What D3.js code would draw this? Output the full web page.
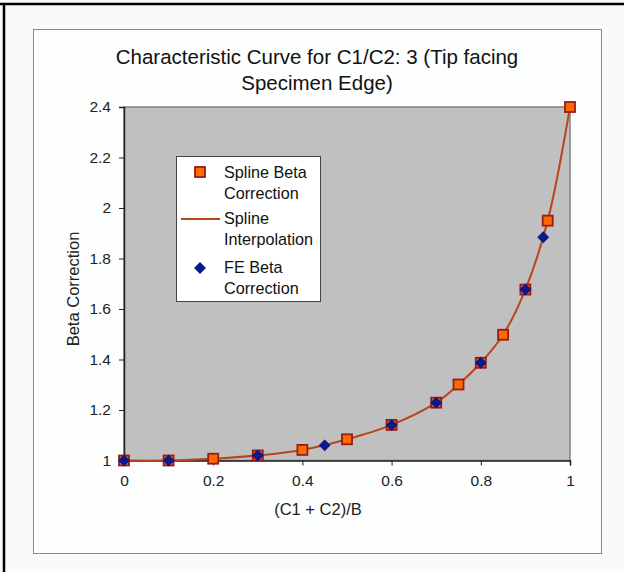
<!DOCTYPE html>
<html>
<head>
<meta charset="utf-8">
<script src="https://cdn.jsdelivr.net/npm/d3@7"></script>
<style>
  body { margin: 0; background: #f9fbfb; }
  svg { display: block; font-family: "Liberation Sans", Arial, sans-serif; }
</style>
</head>
<body>
<svg width="624" height="572"></svg>
<script>
// spline beta correction points
const splineX = [0, 0.1, 0.2, 0.3, 0.4, 0.5, 0.6, 0.7, 0.75, 0.8, 0.85, 0.9, 0.95, 1.0];
const splineY = [1.0, 1.0, 1.007, 1.02, 1.042, 1.084, 1.141, 1.229, 1.301, 1.387, 1.498, 1.677, 1.95, 2.4];

// FE beta correction points
const feX = [0, 0.1, 0.3, 0.45, 0.6, 0.7, 0.8, 0.9, 0.94];
const feY = [1.0, 1.0, 1.02, 1.06, 1.14, 1.229, 1.387, 1.677, 1.884];

const xTicks = [0, 0.2, 0.4, 0.6, 0.8, 1];
const yTicks = [1, 1.2, 1.4, 1.6, 1.8, 2, 2.2, 2.4];

const spline = splineX.map((x, i) => ({ x, y: splineY[i] }));
const fe = feX.map((x, i) => ({ x, y: feY[i] }));

const svg = d3.select("svg");

const x = d3.scaleLinear().domain([0, 1]).range([124, 570]);
const y = d3.scaleLinear().domain([1, 2.4]).range([460.5, 107]);

// outer frame
svg.append("line").attr("x1", 0).attr("x2", 624).attr("y1", 4).attr("y2", 4)
  .attr("stroke", "#000").attr("stroke-width", 2.5);
svg.append("line").attr("x1", 4).attr("x2", 4).attr("y1", 3).attr("y2", 572)
  .attr("stroke", "#000").attr("stroke-width", 2.5);

// chart area
svg.append("rect")
  .attr("x", 33.5).attr("y", 29.5).attr("width", 568).attr("height", 524)
  .attr("fill", "#fdfefe").attr("stroke", "#8a8a8a").attr("stroke-width", 1);

// plot area
svg.append("rect")
  .attr("x", x(0)).attr("y", y(2.4)).attr("width", x(1) - x(0)).attr("height", y(1) - y(2.4))
  .attr("fill", "#c0c0c0").attr("stroke", "#808080").attr("stroke-width", 1.5);

// title
const title = svg.append("text")
  .attr("x", 317).attr("y", 64)
  .attr("text-anchor", "middle")
  .attr("font-size", 20.5).attr("fill", "#111");
title.append("tspan").attr("x", 317).text("Characteristic Curve for C1/C2: 3 (Tip facing");
title.append("tspan").attr("x", 317).attr("dy", 26).text("Specimen Edge)");

// axes
const xAxis = svg.append("g")
  .attr("transform", `translate(0,${y(1)})`)
  .call(d3.axisBottom(x).tickValues(xTicks).tickSize(5).tickPadding(9).tickFormat(d3.format("")));
const yAxis = svg.append("g")
  .attr("transform", `translate(${x(0)},0)`)
  .call(d3.axisLeft(y).tickValues(yTicks).tickSize(5).tickPadding(8).tickFormat(d3.format("")));

[xAxis, yAxis].forEach(g => {
  g.attr("font-size", 15.5).attr("font-family", "Liberation Sans, Arial, sans-serif");
  g.select(".domain").attr("stroke", "#222").attr("stroke-width", 1.5);
  g.selectAll(".tick line").attr("stroke", "#222");
  g.selectAll("text").attr("fill", "#222");
});

svg.append("text")
  .attr("x", 318).attr("y", 515)
  .attr("text-anchor", "middle").attr("font-size", 16.5).attr("fill", "#222")
  .text("(C1 + C2)/B");

svg.append("text")
  .attr("transform", "translate(79,289) rotate(-90)")
  .attr("text-anchor", "middle").attr("font-size", 16.5).attr("fill", "#222")
  .text("Beta Correction");

// spline line
const line = d3.line()
  .x(d => x(d.x))
  .y(d => y(d.y))
  .curve(d3.curveCatmullRom.alpha(0.5));

svg.append("path")
  .datum(spline)
  .attr("fill", "none")
  .attr("stroke", "#b8461a")
  .attr("stroke-width", 2)
  .attr("d", line);

// square markers
const sq = 10;
svg.append("g").selectAll("rect")
  .data(spline)
  .join("rect")
  .attr("x", d => x(d.x) - sq / 2)
  .attr("y", d => y(d.y) - sq / 2)
  .attr("width", sq).attr("height", sq)
  .attr("fill", "#ff6a00").attr("stroke", "#9a1a1a").attr("stroke-width", 1.8);

// diamond markers
const diamond = d3.symbol().type(d3.symbolDiamond2).size(90);
svg.append("g").selectAll("path")
  .data(fe)
  .join("path")
  .attr("transform", d => `translate(${x(d.x)},${y(d.y)})`)
  .attr("d", diamond)
  .attr("fill", "#0a1a8c");

// legend
const lg = svg.append("g");
lg.append("rect")
  .attr("x", 176.5).attr("y", 156.5).attr("width", 144).attr("height", 145)
  .attr("fill", "#fff").attr("stroke", "#444").attr("stroke-width", 1);

const legendLines = [
  ["Spline Beta", "Correction"],
  ["Spline", "Interpolation"],
  ["FE Beta", "Correction"]
];
const rowY = [172, 218, 267];
legendLines.forEach((ls, i) => {
  const t = lg.append("text").attr("x", 224).attr("y", rowY[i] + 5.5)
    .attr("font-size", 16.2).attr("fill", "#111");
  t.append("tspan").attr("x", 224).text(ls[0]);
  t.append("tspan").attr("x", 224).attr("dy", 21).text(ls[1]);
});
lg.append("rect")
  .attr("x", 200 - sq / 2).attr("y", rowY[0] - sq / 2).attr("width", sq).attr("height", sq)
  .attr("fill", "#ff6a00").attr("stroke", "#9a1a1a").attr("stroke-width", 1.8);
lg.append("line")
  .attr("x1", 181).attr("x2", 220).attr("y1", rowY[1] + 1).attr("y2", rowY[1] + 1)
  .attr("stroke", "#b8461a").attr("stroke-width", 2);
lg.append("path")
  .attr("transform", `translate(200,${rowY[2] + 1})`)
  .attr("d", diamond)
  .attr("fill", "#0a1a8c");
</script>
</body>
</html>
